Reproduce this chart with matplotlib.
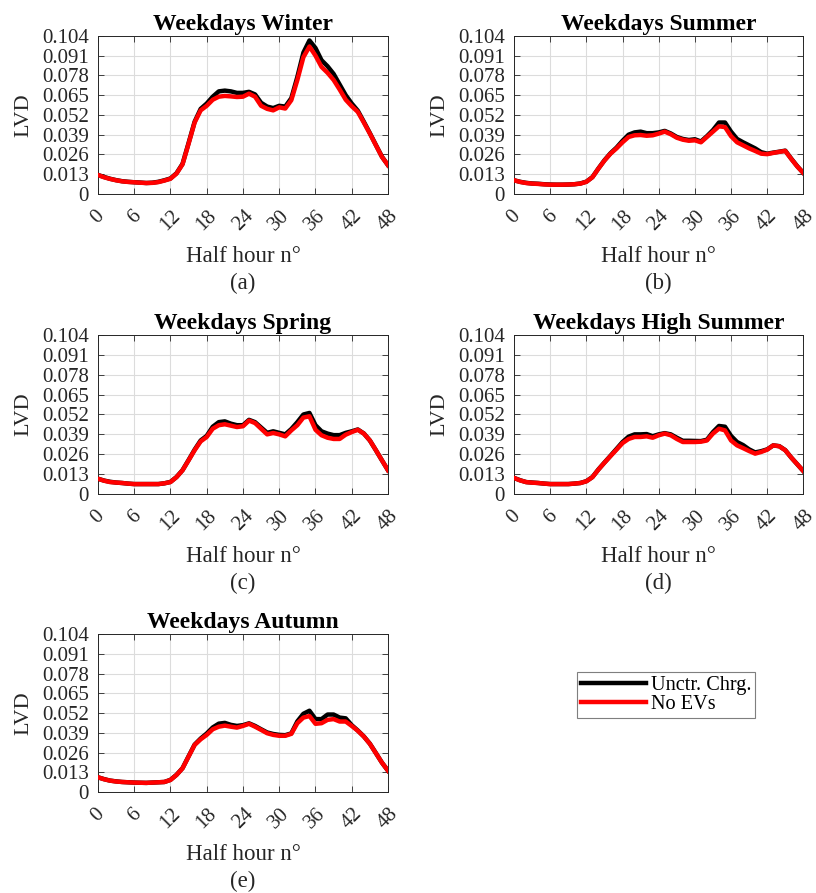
"""
LVD half-hourly profiles on weekdays, uncontrolled EV charging vs no EVs
"""

import numpy as np
import matplotlib
matplotlib.use('Agg')
import matplotlib.pyplot as plt
from matplotlib.lines import Line2D

half_hour = np.arange(0, 49)

# Weekdays Winter
winter_unctr = [0.0125, 0.0112, 0.0100, 0.0091, 0.0084, 0.0080, 0.0077, 0.0075, 0.0072, 0.0074,
                0.0080, 0.0090, 0.0102, 0.0136, 0.0198, 0.0335, 0.0475, 0.0560, 0.0595, 0.0640,
                0.0675, 0.0680, 0.0675, 0.0665, 0.0665, 0.0672, 0.0655, 0.0600, 0.0575, 0.0565,
                0.0580, 0.0575, 0.0630, 0.0770, 0.0930, 0.1010, 0.0960, 0.0880, 0.0840, 0.0790,
                0.0720, 0.0650, 0.0595, 0.0548, 0.0475, 0.0400, 0.0322, 0.0245, 0.0189]
winter_noev = [0.0125, 0.0110, 0.0099, 0.0090, 0.0083, 0.0079, 0.0077, 0.0074, 0.0072, 0.0073,
               0.0078, 0.0088, 0.0100, 0.0134, 0.0195, 0.0330, 0.0470, 0.0550, 0.0580, 0.0620,
               0.0640, 0.0645, 0.0642, 0.0638, 0.0640, 0.0660, 0.0640, 0.0580, 0.0560, 0.0550,
               0.0570, 0.0562, 0.0617, 0.0750, 0.0900, 0.0970, 0.0910, 0.0836, 0.0797, 0.0750,
               0.0687, 0.0620, 0.0577, 0.0540, 0.0470, 0.0397, 0.0320, 0.0244, 0.0189]

# Weekdays Summer
summer_unctr = [0.0090, 0.0080, 0.0073, 0.0069, 0.0067, 0.0064, 0.0062, 0.0061, 0.0061, 0.0062,
                0.0064, 0.0069, 0.0081, 0.0111, 0.0168, 0.0222, 0.0268, 0.0305, 0.0350, 0.0390,
                0.0405, 0.0410, 0.0400, 0.0400, 0.0405, 0.0415, 0.0398, 0.0375, 0.0362, 0.0355,
                0.0360, 0.0345, 0.0380, 0.0420, 0.0470, 0.0470, 0.0410, 0.0362, 0.0340, 0.0320,
                0.0300, 0.0275, 0.0265, 0.0272, 0.0278, 0.0285, 0.0232, 0.0182, 0.0138]
summer_noev = [0.0090, 0.0079, 0.0072, 0.0068, 0.0066, 0.0063, 0.0061, 0.0061, 0.0061, 0.0062,
               0.0064, 0.0068, 0.0080, 0.0110, 0.0167, 0.0220, 0.0265, 0.0300, 0.0340, 0.0375,
               0.0386, 0.0388, 0.0383, 0.0386, 0.0397, 0.0410, 0.0393, 0.0370, 0.0357, 0.0350,
               0.0353, 0.0340, 0.0375, 0.0410, 0.0445, 0.0440, 0.0380, 0.0340, 0.0320, 0.0300,
               0.0283, 0.0265, 0.0262, 0.0270, 0.0277, 0.0283, 0.0230, 0.0180, 0.0138]

# Weekdays Spring
spring_unctr = [0.0100, 0.0088, 0.0080, 0.0075, 0.0072, 0.0068, 0.0065, 0.0065, 0.0065, 0.0065,
                0.0065, 0.0070, 0.0079, 0.0111, 0.0156, 0.0222, 0.0290, 0.0350, 0.0380, 0.0440,
                0.0470, 0.0475, 0.0460, 0.0450, 0.0450, 0.0485, 0.0470, 0.0435, 0.0400, 0.0410,
                0.0400, 0.0390, 0.0425, 0.0470, 0.0520, 0.0530, 0.0450, 0.0410, 0.0395, 0.0385,
                0.0385, 0.0400, 0.0410, 0.0422, 0.0396, 0.0350, 0.0286, 0.0220, 0.0155]
spring_noev = [0.0100, 0.0087, 0.0078, 0.0075, 0.0072, 0.0068, 0.0065, 0.0065, 0.0065, 0.0065,
               0.0065, 0.0070, 0.0078, 0.0110, 0.0155, 0.0220, 0.0286, 0.0344, 0.0373, 0.0427,
               0.0450, 0.0456, 0.0447, 0.0438, 0.0443, 0.0480, 0.0464, 0.0427, 0.0390, 0.0399,
               0.0390, 0.0377, 0.0416, 0.0450, 0.0500, 0.0508, 0.0420, 0.0384, 0.0368, 0.0360,
               0.0360, 0.0388, 0.0405, 0.0420, 0.0395, 0.0350, 0.0286, 0.0220, 0.0155]

# Weekdays High Summer
high_unctr = [0.0105, 0.0090, 0.0078, 0.0075, 0.0072, 0.0068, 0.0065, 0.0065, 0.0065, 0.0065,
              0.0068, 0.0072, 0.0084, 0.0111, 0.0161, 0.0206, 0.0250, 0.0295, 0.0340, 0.0375,
              0.0390, 0.0390, 0.0392, 0.0378, 0.0390, 0.0398, 0.0390, 0.0368, 0.0348, 0.0348,
              0.0347, 0.0346, 0.0355, 0.0405, 0.0445, 0.0440, 0.0380, 0.0340, 0.0320, 0.0292,
              0.0272, 0.0280, 0.0292, 0.0318, 0.0313, 0.0287, 0.0238, 0.0194, 0.0150]
high_noev = [0.0105, 0.0089, 0.0078, 0.0074, 0.0072, 0.0068, 0.0065, 0.0065, 0.0065, 0.0065,
             0.0068, 0.0072, 0.0083, 0.0110, 0.0160, 0.0205, 0.0248, 0.0290, 0.0333, 0.0360,
             0.0373, 0.0373, 0.0377, 0.0368, 0.0384, 0.0395, 0.0384, 0.0360, 0.0340, 0.0340,
             0.0340, 0.0342, 0.0350, 0.0395, 0.0427, 0.0416, 0.0350, 0.0318, 0.0300, 0.0281,
             0.0264, 0.0275, 0.0290, 0.0318, 0.0312, 0.0286, 0.0238, 0.0194, 0.0150]

# Weekdays Autumn
autumn_unctr = [0.0097, 0.0085, 0.0075, 0.0070, 0.0066, 0.0064, 0.0062, 0.0061, 0.0060, 0.0062,
                0.0064, 0.0066, 0.0080, 0.0113, 0.0157, 0.0235, 0.0312, 0.0352, 0.0385, 0.0425,
                0.0450, 0.0455, 0.0442, 0.0435, 0.0440, 0.0452, 0.0435, 0.0413, 0.0392, 0.0382,
                0.0376, 0.0374, 0.0386, 0.0465, 0.0515, 0.0535, 0.0480, 0.0480, 0.0510, 0.0510,
                0.0490, 0.0485, 0.0440, 0.0405, 0.0366, 0.0318, 0.0256, 0.0193, 0.0140]
autumn_noev = [0.0097, 0.0084, 0.0075, 0.0069, 0.0066, 0.0064, 0.0062, 0.0061, 0.0060, 0.0062,
               0.0064, 0.0066, 0.0079, 0.0112, 0.0156, 0.0233, 0.0310, 0.0347, 0.0376, 0.0413,
               0.0430, 0.0437, 0.0430, 0.0424, 0.0435, 0.0449, 0.0430, 0.0409, 0.0387, 0.0376,
               0.0370, 0.0370, 0.0383, 0.0453, 0.0490, 0.0500, 0.0449, 0.0453, 0.0475, 0.0480,
               0.0464, 0.0464, 0.0435, 0.0403, 0.0365, 0.0317, 0.0255, 0.0193, 0.0140]

titles = ['Weekdays Winter', 'Weekdays Summer', 'Weekdays Spring',
          'Weekdays High Summer', 'Weekdays Autumn']
panel_tags = ['(a)', '(b)', '(c)', '(d)', '(e)']
unctr_series = [winter_unctr, summer_unctr, spring_unctr, high_unctr, autumn_unctr]
noev_series = [winter_noev, summer_noev, spring_noev, high_noev, autumn_noev]

x_ticks = np.arange(0, 49, 6)
y_ticks = [0, 0.013, 0.026, 0.039, 0.052, 0.065, 0.078, 0.091, 0.104]
y_ticklabels = ['0', '0.013', '0.026', '0.039', '0.052', '0.065', '0.078', '0.091', '0.104']

plt.rcParams['font.family'] = ['Liberation Serif', 'DejaVu Serif']

fig = plt.figure(figsize=(8.16, 8.93), dpi=100)

# [left, bottom, width, height] of each panel
positions = [
    [0.120, 0.7828, 0.3555, 0.1770],
    [0.630, 0.7828, 0.3545, 0.1770],
    [0.120, 0.4468, 0.3555, 0.1781],
    [0.630, 0.4468, 0.3545, 0.1781],
    [0.120, 0.1131, 0.3555, 0.1769],
]

axis_gray = '#262626'

for i in range(5):
    ax = fig.add_axes(positions[i])
    ax.plot(half_hour, unctr_series[i], color='black', linewidth=3.2, zorder=3)
    ax.plot(half_hour, noev_series[i], color='#ff0000', linewidth=3.2, zorder=4)

    ax.set_xlim(0, 48)
    ax.set_ylim(0, 0.104)
    ax.set_xticks(x_ticks)
    ax.set_xticklabels([str(t) for t in x_ticks], rotation=45, ha='center')
    ax.set_yticks(y_ticks)
    ax.set_yticklabels(y_ticklabels)

    ax.tick_params(axis='both', direction='in', length=4, width=0.6,
                   top=True, right=True, colors=axis_gray, labelsize=15)
    ax.tick_params(axis='x', pad=9)
    ax.tick_params(axis='y', pad=6.5)
    ax.grid(True, color='#dcdcdc', linewidth=0.8)
    ax.set_axisbelow(True)
    for sp in ax.spines.values():
        sp.set_color(axis_gray)
        sp.set_linewidth(0.7)

    ax.set_title(titles[i], fontsize=17, fontweight='bold', pad=4)
    ax.set_ylabel('LVD', fontsize=16, color=axis_gray, labelpad=6)
    ax.set_xlabel('Half hour n°', fontsize=16.5, color=axis_gray, labelpad=8)
    ax.text(0.5, -0.565, panel_tags[i], transform=ax.transAxes,
            ha='center', va='center', fontsize=16.5, color=axis_gray)

handles = [
    Line2D([0], [0], color='black', linewidth=3.2, label='Unctr. Chrg.'),
    Line2D([0], [0], color='#ff0000', linewidth=3.2, label='No EVs'),
]
leg = fig.legend(handles=handles, loc='upper left', bbox_to_anchor=(0.707, 0.2475),
                 fontsize=14.6, frameon=True, fancybox=False, framealpha=1,
                 edgecolor='#7f7f7f', handlelength=3.2, handletextpad=0.25,
                 borderpad=0.2, labelspacing=0.0, borderaxespad=0)
leg.get_frame().set_linewidth(0.8)

plt.savefig('out.png', dpi=100)
plt.close()
